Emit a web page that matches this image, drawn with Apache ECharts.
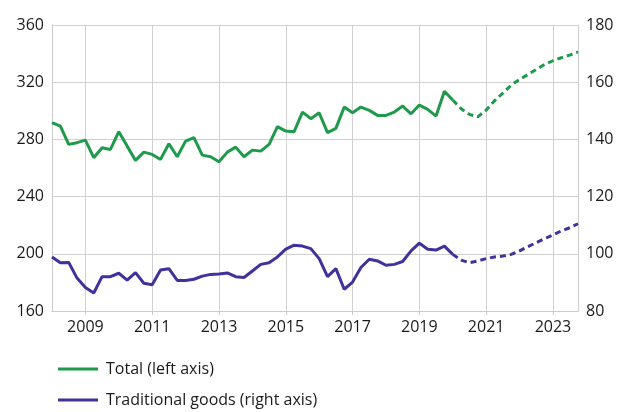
<!DOCTYPE html>
<html><head><meta charset="utf-8">
<script src="https://cdn.jsdelivr.net/npm/echarts@6/dist/echarts.min.js"></script>
<style>html,body{margin:0;padding:0;background:#fff}#c{width:627px;height:412px}</style>
</head><body><div id="c"></div>
<script>
const categories = ['2008Q1','2008Q2','2008Q3','2008Q4','2009Q1','2009Q2','2009Q3','2009Q4','2010Q1','2010Q2','2010Q3','2010Q4','2011Q1','2011Q2','2011Q3','2011Q4','2012Q1','2012Q2','2012Q3','2012Q4','2013Q1','2013Q2','2013Q3','2013Q4','2014Q1','2014Q2','2014Q3','2014Q4','2015Q1','2015Q2','2015Q3','2015Q4','2016Q1','2016Q2','2016Q3','2016Q4','2017Q1','2017Q2','2017Q3','2017Q4','2018Q1','2018Q2','2018Q3','2018Q4','2019Q1','2019Q2','2019Q3','2019Q4','2020Q1','2020Q2','2020Q3','2020Q4','2021Q1','2021Q2','2021Q3','2021Q4','2022Q1','2022Q2','2022Q3','2022Q4','2023Q1','2023Q2','2023Q3','2023Q4'];
// Total (left axis): actual 2008Q1-2020Q1, forecast 2020Q1-2023Q4
const totalActual = [291.7,289.3,276.5,277.7,279.5,267.2,274.2,273,285.4,275.3,265.3,271.1,269.5,266,277,267.9,278.8,281.2,269,267.9,264.4,271.1,274.6,267.9,272.5,271.8,276.5,288.9,285.8,285.4,299.1,294.5,298.6,284.7,287.7,302.6,298.6,302.6,300.3,296.8,296.8,299.1,303.3,297.9,304,301,296.3,313.7,307.5];
const totalForecast = [307.5,301.5,297.5,295.8,300.5,307,312.3,318,321.9,325.4,328.9,332.4,335,337.1,338.9,341.2];
// Traditional goods (right axis)
const tradActual = [98.9,96.9,97,91.5,88.2,86.3,92,92,93.2,90.8,93.4,89.7,89.2,94.3,94.8,90.7,90.7,91.1,92.2,92.8,92.9,93.3,92,91.7,94,96.3,96.9,98.9,101.6,103,102.7,101.8,98.3,92,94.8,87.6,90.1,95.2,98.1,97.5,96,96.3,97.3,101,103.7,101.6,101.3,102.7,99.8];
const tradForecast = [99.8,97.8,96.9,97.5,98.3,98.9,99.2,99.8,101,102.5,103.9,105.3,106.6,108,109.1,110.5];
const leftTicks = {min:160, max:360, interval:40};
const rightTicks = {min:80, max:180, interval:20};

const startF = totalActual.length - 1;
function pad(actual, forecast, isForecast){
  const out = new Array(categories.length).fill(null);
  if(!isForecast){ actual.forEach((v,i)=>out[i]=v); }
  else { forecast.forEach((v,i)=>out[startF+i]=v); }
  return out;
}
const GREEN = '#1e9a4a', PURPLE = '#43309a';
const font = 'Open Sans';
const yearInterval = (idx)=> idx % 8 === 4;
const chart = echarts.init(document.getElementById('c'), null, {renderer:'canvas'});
chart.setOption({
  animation:false,
  textStyle:{fontFamily:font},
  grid:{left:52, right:49, top:25, bottom:101},
  legend:{
    orient:'vertical', left:58, top:361, height:90, itemWidth:40, itemHeight:3, itemGap:15,
    icon:'rect', padding:0,
    textStyle:{fontFamily:font, fontSize:16, color:'#1a1a1a', padding:[0,0,0,3]},
    data:['Total (left axis)','Traditional goods (right axis)']
  },
  xAxis:{
    type:'category', data:categories, boundaryGap:false,
    axisLine:{show:true, lineStyle:{color:'#cccccc', width:1}},
    axisTick:{show:true, interval:yearInterval, length:4, lineStyle:{color:'#cccccc'}},
    axisLabel:{interval:yearInterval, formatter:(v)=>v.slice(0,4), fontSize:16, color:'#1a1a1a', margin:8, fontFamily:font},
    splitLine:{show:true, interval:yearInterval, lineStyle:{color:'#d0d0d0', width:1}}
  },
  yAxis:[
    {type:'value', min:leftTicks.min, max:leftTicks.max, interval:leftTicks.interval,
     axisLine:{show:true, lineStyle:{color:'#cccccc'}}, axisTick:{show:false},
     axisLabel:{fontSize:16, color:'#1a1a1a', margin:8, fontFamily:font},
     splitLine:{show:true, lineStyle:{color:'#d0d0d0', width:1}}},
    {type:'value', min:rightTicks.min, max:rightTicks.max, interval:rightTicks.interval, position:'right',
     axisLine:{show:true, lineStyle:{color:'#cccccc'}}, axisTick:{show:false},
     axisLabel:{fontSize:16, color:'#1a1a1a', margin:8, fontFamily:font},
     splitLine:{show:false}}
  ],
  series:[
    {name:'Total (left axis)', type:'line', yAxisIndex:0, data:pad(totalActual,totalForecast,false), showSymbol:false, symbol:'none',
     lineStyle:{color:GREEN, width:3}, itemStyle:{color:GREEN}, z:3},
    {name:'Total forecast', type:'line', yAxisIndex:0, data:pad(totalActual,totalForecast,true), showSymbol:false, symbol:'none',
     lineStyle:{color:GREEN, width:3, type:[6,4]}, itemStyle:{color:GREEN}, z:3},
    {name:'Traditional goods (right axis)', type:'line', yAxisIndex:1, data:pad(tradActual,tradForecast,false), showSymbol:false, symbol:'none',
     lineStyle:{color:PURPLE, width:3}, itemStyle:{color:PURPLE}, z:3},
    {name:'Traditional forecast', type:'line', yAxisIndex:1, data:pad(tradActual,tradForecast,true), showSymbol:false, symbol:'none',
     lineStyle:{color:PURPLE, width:3, type:[6,4]}, itemStyle:{color:PURPLE}, z:3}
  ]
});
</script></body></html>
